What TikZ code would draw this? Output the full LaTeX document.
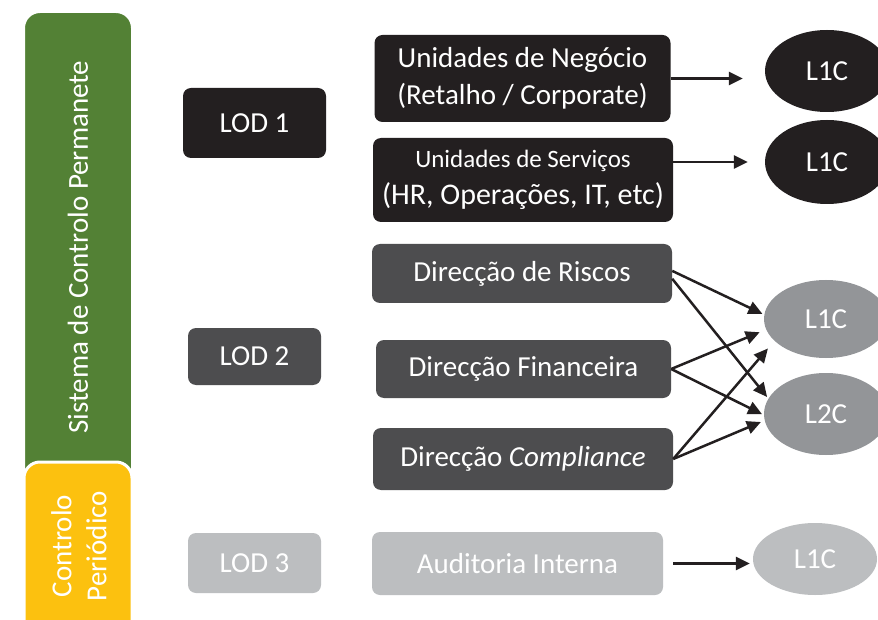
\documentclass[tikz,border=0pt]{standalone}
\usepackage{fontspec}
\setmainfont{Carlito}
\usetikzlibrary{arrows.meta}
\usetikzlibrary{shapes.geometric}
\definecolor{lodone}{HTML}{231F20}
\definecolor{lodtwo}{HTML}{4D4D4F}
\definecolor{lodthree}{HTML}{BCBEC0}
\definecolor{ovalgray}{HTML}{939598}
\definecolor{permgreen}{HTML}{538135}
\definecolor{perioyellow}{HTML}{FCC10F}
\tikzset{>={Triangle[length=14pt,width=13pt]}}
\tikzset{
	box/.style={rounded corners=8pt, text=white, align=center, inner sep=0pt,
		font=\fontsize{29}{37}\selectfont},
	oval/.style={ellipse, text=white, inner sep=0pt, minimum width=124pt,
		font=\fontsize{29}{35}\selectfont},
	link/.style={->, line width=2.5pt, color=lodone}
}

\begin{document}
\begin{tikzpicture}[x=1pt,y=-1pt]
		\useasboundingbox[fill=white] (0,0) rectangle (878,620);
		% side bars
		\draw[fill=permgreen, draw=white, line width=2pt, rounded corners=16pt] (24,12) rectangle (132,490);
		\draw[fill=perioyellow, draw=white, line width=3pt, rounded corners=16pt] (24,462) rectangle (132,660);
		\node[rotate=90, text=white, font=\fontsize{29}{35}\selectfont] (perm) at (78,247) {Sistema de Controlo Permanete};
		\node[rotate=90, text=white, align=center, font=\fontsize{29}{35}\selectfont] (perio) at (79,546) {Controlo\\Periódico};
		% lines of defence
		\node[box, fill=lodone, minimum width=143pt, minimum height=70pt] (lod1) at (254.5,123) {LOD 1};
		\node[box, fill=lodtwo, minimum width=133pt, minimum height=57pt] (lod2) at (254.5,356.5) {LOD 2};
		\node[box, fill=lodthree, minimum width=133pt, minimum height=60pt] (lod3) at (254.5,563) {LOD 3};
		% units
		\node[box, fill=lodone, minimum width=296pt, minimum height=87pt] (neg) at (522.5,78.5) {Unidades de Negócio\\(Retalho / Corporate)};
		\node[box, fill=lodone, minimum width=300pt, minimum height=84pt] (serv) at (523,180) {{\fontsize{25}{35}\selectfont Unidades de Serviços}\\{\fontsize{30}{35}\selectfont (HR, Operações, IT, etc)}};
		\node[box, fill=lodtwo, minimum width=300pt, minimum height=59pt] (risc) at (522,273.5) {Direcção de Riscos};
		\node[box, fill=lodtwo, minimum width=295pt, minimum height=58pt] (fin) at (523.5,369) {Direcção Financeira};
		\node[box, fill=lodtwo, minimum width=300pt, minimum height=62pt] (comp) at (523,459) {Direcção \textit{Compliance}};
		\node[box, fill=lodthree, minimum width=291pt, minimum height=63pt] (aud) at (517.5,563.5) {Auditoria Interna};
		% controls
		\node[oval, fill=lodone, minimum height=82pt] (negc) at (827,71) {L1C};
		\node[oval, fill=lodone, minimum height=84pt] (servc) at (827,162) {L1C};
		\node[oval, fill=ovalgray, minimum height=78pt] (lonec) at (826,319) {L1C};
		\node[oval, fill=ovalgray, minimum height=82pt] (ltwoc) at (826,414) {L2C};
		\node[oval, fill=lodthree, minimum height=72pt] (audc) at (815,559) {L1C};
		% arrows
		\draw[link, shorten >=22pt] (neg.east) -- (neg.east -| negc.west);
		\draw[link, shorten >=17pt] (serv.east |- servc.west) -- (servc.west);
		\draw[link, shorten >=2pt] (risc.1) -- (lonec.176);
		\draw[link, shorten >=2pt] (risc.-2) -- (ltwoc.165);
		\draw[link, shorten >=7pt] (fin.east) -- (lonec.190);
		\draw[link, shorten >=2pt] (fin.east) -- (ltwoc.181);
		\draw[link, shorten >=10pt] (comp.east) -- (lonec.203);
		\draw[link, shorten >=4pt] (comp.east) -- (ltwoc.186);
		\draw[link, shorten <=10pt, shorten >=3pt] (aud.east) -- (aud.east -| audc.west);
	\end{tikzpicture}
\end{document}
